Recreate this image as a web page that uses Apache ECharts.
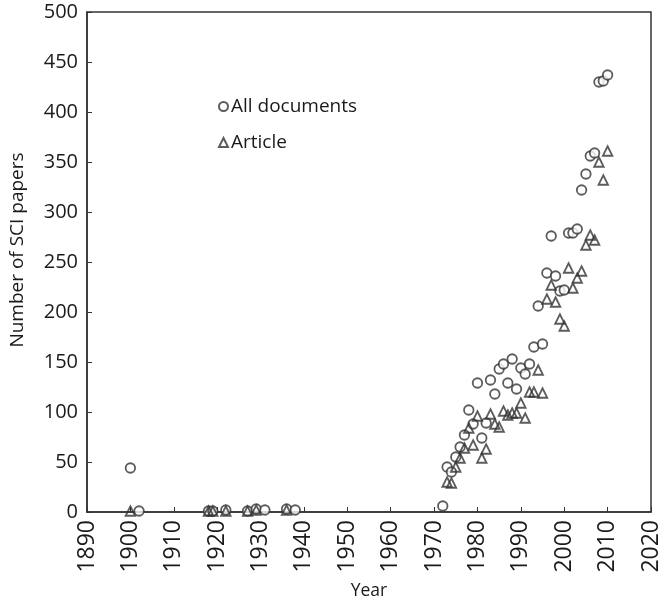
<!DOCTYPE html>
<html>
<head>
<meta charset="utf-8">
<title>SCI papers</title>
<script src="https://cdn.jsdelivr.net/npm/echarts@6/dist/echarts.min.js"></script>
<style>
	html, body { margin: 0; padding: 0; background: #fff; }
	#chart { width: 659px; height: 600px; }
</style>
</head>
<body>
<div id="chart"></div>
<script>
// values
var docYears = [1900, 1902, 1918, 1919, 1922, 1927, 1929, 1931, 1936, 1938,
	1972, 1973, 1974, 1975, 1976, 1977, 1978, 1979, 1980, 1981, 1982, 1983, 1984, 1985,
	1986, 1987, 1988, 1989, 1990, 1991, 1992, 1993, 1994, 1995, 1996, 1997, 1998, 1999,
	2000, 2001, 2002, 2003, 2004, 2005, 2006, 2007, 2008, 2009, 2010];
var docCounts = [44, 1, 1, 1, 2, 1, 3, 2, 3, 2,
	6, 45, 40, 55, 65, 77, 102, 88, 129, 74, 89, 132, 118, 143,
	148, 129, 153, 123, 144, 138, 148, 165, 206, 168, 239, 276, 236, 221,
	222, 279, 279, 283, 322, 338, 356, 359, 430, 431, 437];

var articleYears = [1900, 1918, 1919, 1922, 1927, 1929, 1936,
	1973, 1974, 1975, 1976, 1977, 1978, 1979, 1980, 1981, 1982, 1983, 1984, 1985,
	1986, 1987, 1988, 1989, 1990, 1991, 1992, 1993, 1994, 1995, 1996, 1997, 1998, 1999,
	2000, 2001, 2002, 2003, 2004, 2005, 2006, 2007, 2008, 2009, 2010];
var articleCounts = [1, 1, 1, 1, 1, 2, 2,
	30, 29, 45, 54, 64, 84, 67, 96, 54, 63, 98, 88, 85,
	101, 97, 99, 99, 109, 94, 120, 120, 142, 119, 213, 227, 210, 193,
	186, 244, 224, 234, 241, 267, 277, 272, 350, 332, 361];

var seriesNames = ['All documents', 'Article'];

function pairs(xs, ys) {
	var out = [];
	for (var i = 0; i < xs.length; i++) {
		out.push([xs[i], ys[i]]);
	}
	return out;
}

var ink = '#333';
var textColor = '#1a1a1a';
var font = 'Open Sans';

var chart = echarts.init(document.getElementById('chart'), null, { renderer: 'canvas' });

var option = {
	animation: false,
	backgroundColor: '#fff',
	textStyle: { fontFamily: font },
	grid: {
		left: 87,
		right: 8,
		top: 12,
		bottom: 88,
		outerBoundsMode: 'none',
		containLabel: false,
		show: true,
		borderColor: '#333',
		borderWidth: 1.5
	},
	legend: {
		orient: 'vertical',
		left: 213,
		top: 92,
		itemGap: 17,
		itemWidth: 9,
		itemHeight: 9,
		data: [
			{ name: seriesNames[0], icon: 'circle' },
			{ name: seriesNames[1], icon: 'triangle' }
		],
		textStyle: { fontSize: 19, color: textColor, fontFamily: font, padding: [0, 0, 0, -2] }
	},
	xAxis: {
		type: 'value',
		min: 1890,
		max: 2020,
		interval: 10,
		name: 'Year',
		nameLocation: 'middle',
		nameGap: 70,
		nameTextStyle: { fontSize: 17.5, color: textColor },
		axisLine: { lineStyle: { color: '#333', width: 1.5 } },
		axisTick: { inside: true, length: 5, lineStyle: { color: '#333' } },
		axisLabel: {
			rotate: 90,
			fontSize: 23,
			color: textColor,
			margin: 8,
			formatter: function(v) {
				return String(v);
			}
		},
		splitLine: { show: false }
	},
	yAxis: {
		type: 'value',
		min: 0,
		max: 500,
		interval: 50,
		name: 'Number of SCI papers',
		nameLocation: 'middle',
		nameGap: 60,
		nameTextStyle: { fontSize: 19, color: textColor, padding: [0, 0, 0, 24] },
		axisLine: { show: true, lineStyle: { color: '#333', width: 1.5 } },
		axisTick: { show: true, inside: true, length: 5, lineStyle: { color: '#333' } },
		axisLabel: { fontSize: 20, color: textColor, margin: 9 },
		splitLine: { show: false }
	},
	series: [{
		name: seriesNames[0],
		type: 'scatter',
		symbol: 'circle',
		symbolSize: 9.5,
		itemStyle: { color: '#fff', borderColor: ink, borderWidth: 1.8 },
		data: pairs(docYears, docCounts)
	}, {
		name: seriesNames[1],
		type: 'scatter',
		symbol: 'triangle',
		symbolSize: 9.5,
		itemStyle: { color: 'rgba(255,255,255,0)', borderColor: ink, borderWidth: 1.8 },
		data: pairs(articleYears, articleCounts)
	}]
};

chart.setOption(option);
</script>
</body>
</html>
